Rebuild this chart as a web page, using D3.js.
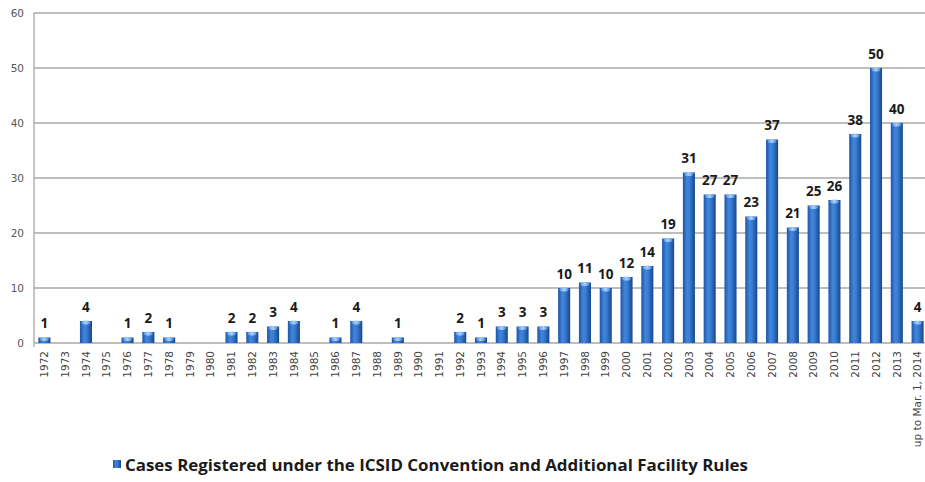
<!DOCTYPE html>
<html><head><meta charset="utf-8">
<script src="https://cdn.jsdelivr.net/npm/d3@7/dist/d3.min.js"></script>
<style>body{margin:0;background:#fff}svg{display:block}</style>
</head><body><svg id="c" width="925" height="482"></svg>
<script>
const categories = ["1972","1973","1974","1975","1976","1977","1978","1979","1980","1981","1982","1983","1984","1985","1986","1987","1988","1989","1990","1991","1992","1993","1994","1995","1996","1997","1998","1999","2000","2001","2002","2003","2004","2005","2006","2007","2008","2009","2010","2011","2012","2013","up to Mar. 1, 2014"];
const values = [1,0,4,0,1,2,1,0,0,2,2,3,4,0,1,4,0,1,0,0,2,1,3,3,3,10,11,10,12,14,19,31,27,27,23,37,21,25,26,38,50,40,4];
const yTicks = [0,10,20,30,40,50,60];
const seriesName = "Cases Registered under the ICSID Convention and Additional Facility Rules";

const svg = d3.select("#c");
const m = {l:34, r:928, t:13, b:343};
const x = d3.scaleBand().domain(categories).range([m.l, m.r]).paddingInner(0.42).paddingOuter(0.21);
const y = d3.scaleLinear().domain([0,60]).range([m.b, m.t]);

const defs = svg.append("defs");
const g = defs.append("linearGradient").attr("id","bar").attr("x1","0").attr("x2","1").attr("y1","0").attr("y2","0");
g.append("stop").attr("offset","0").attr("stop-color","#1d55a6");
g.append("stop").attr("offset","0.35").attr("stop-color","#3f86dc");
g.append("stop").attr("offset","0.55").attr("stop-color","#3a7dd2");
g.append("stop").attr("offset","1").attr("stop-color","#18468c");
const gc = defs.append("linearGradient").attr("id","cap").attr("x1","0").attr("x2","1");
gc.append("stop").attr("offset","0").attr("stop-color","#5a9ae6");
gc.append("stop").attr("offset","0.5").attr("stop-color","#a9d0fa");
gc.append("stop").attr("offset","1").attr("stop-color","#4a86d4");

// grid
svg.append("g").selectAll("line").data(yTicks).join("line")
  .attr("x1", m.l).attr("x2", 925).attr("y1", d=>y(d)).attr("y2", d=>y(d))
  .attr("stroke", "#a8a8a8").attr("stroke-width", 1.3);
svg.append("line").attr("x1", m.l).attr("x2", m.l).attr("y1", m.t).attr("y2", m.b+4)
  .attr("stroke","#a8a8a8").attr("stroke-width",1.3);

// y axis labels
const ya = svg.append("g").attr("transform",`translate(${m.l-10},0)`)
  .call(d3.axisLeft(y).tickValues(yTicks).tickSize(0).tickPadding(0));
ya.select(".domain").remove();
ya.selectAll("text").attr("font-family","DejaVu Sans, Verdana, sans-serif").attr("font-size",10.5).attr("fill","#555");

// bars
const bw = x.bandwidth();
const bars = svg.append("g").selectAll("g").data(categories.map((c,i)=>({c, v:values[i]}))).join("g");
bars.filter(d=>d.v>0).append("rect")
  .attr("x", d=>x(d.c)).attr("y", d=>y(d.v)).attr("width", bw).attr("height", d=>y(0)-y(d.v))
  .attr("fill","url(#bar)");
bars.filter(d=>d.v>0).append("ellipse")
  .attr("cx", d=>x(d.c)+bw/2).attr("cy", d=>y(d.v)+1.5).attr("rx", bw/2-1.5).attr("ry", 2)
  .attr("fill","url(#cap)");
bars.filter(d=>d.v>0).append("text")
  .attr("x", d=>x(d.c)+bw/2).attr("y", d=>y(d.v)-9.5)
  .attr("text-anchor","middle").attr("font-family","Open Sans, DejaVu Sans, sans-serif")
  .attr("font-weight","bold").attr("font-size",13.5).attr("fill","#1a1a1a")
  .text(d=>d.v);

// x axis labels
const xa = svg.append("g").attr("transform",`translate(0,${m.b})`)
  .call(d3.axisBottom(x).tickSize(0).tickPadding(0));
xa.select(".domain").remove();
xa.selectAll("text")
  .attr("transform","rotate(-90)").attr("text-anchor","end")
  .attr("x",-8).attr("y",0).attr("dy","0.35em")
  .attr("font-family","DejaVu Sans, Verdana, sans-serif").attr("font-size",10.5).attr("fill","#444");

// legend
svg.append("rect").attr("x",113).attr("y",460).attr("width",8).attr("height",8).attr("fill","url(#bar)");
svg.append("text").attr("x",125).attr("y",471)
  .attr("font-family","Open Sans, sans-serif").attr("font-weight","bold").attr("font-size",15.5)
  .attr("fill","#1a1a1a").attr("textLength",623).attr("lengthAdjust","spacingAndGlyphs")
  .text(seriesName);
</script></body></html>
